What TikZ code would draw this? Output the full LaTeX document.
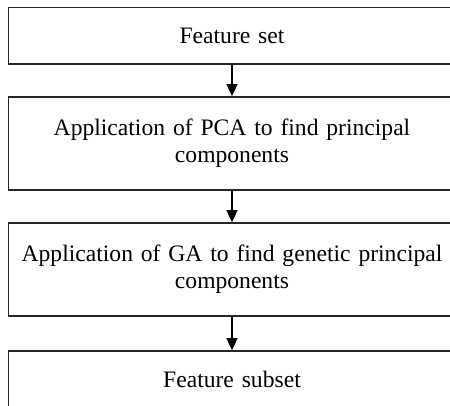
\documentclass[tikz,border=0pt]{standalone}
\usepackage{fontspec}
\setmainfont{Liberation Serif}
\usetikzlibrary{arrows.meta}
\begin{document}
\begin{tikzpicture}[x=1pt,y=-1pt,
  stepbox/.style={draw=black!85, line width=1.7pt, rectangle, minimum width=447pt,
    inner sep=0pt, align=center, text width=430pt,
    font=\fontsize{23.6}{27}\selectfont},
  flow/.style={draw=black, line width=1.5pt, -{Triangle[length=12pt,width=11pt]}}]
\clip (0,0) rectangle (450,405);
\fill[white] (0,0) rectangle (450,405);
\node[stepbox, minimum height=56.5pt] (fs) at (232,35.75) {Feature set};
\node[stepbox, minimum height=93pt] (pca) at (232,143.5) {Application of PCA to find principal\\components};
\node[stepbox, minimum height=93pt] (ga) at (232,269.5) {Application of GA to find genetic principal\\components};
\node[stepbox, minimum height=56.5pt] (sub) at (232,379.25) {Feature subset};
\draw[flow] (fs) -- (pca);
\draw[flow] (pca) -- (ga);
\draw[flow] (ga) -- (sub);
\end{tikzpicture}
\end{document}
